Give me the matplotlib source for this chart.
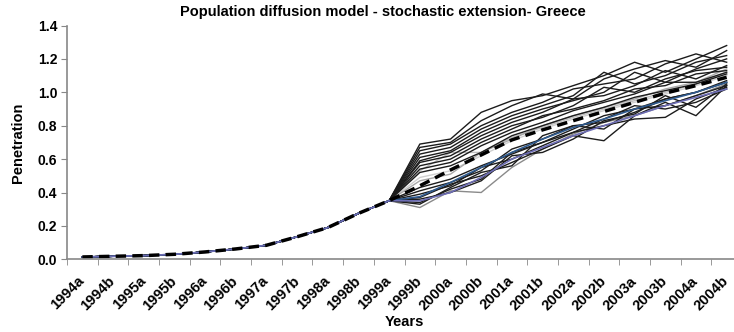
import matplotlib.pyplot as plt
from matplotlib.ticker import FixedLocator, MultipleLocator
from matplotlib.transforms import ScaledTranslation

periods = ['1994a', '1994b', '1995a', '1995b', '1996a', '1996b', '1997a', '1997b',
           '1998a', '1998b', '1999a', '1999b', '2000a', '2000b', '2001a', '2001b',
           '2002a', '2002b', '2003a', '2003b', '2004a', '2004b']

# observed penetration up to 1999a (all runs share it)
history = [0.014, 0.018, 0.022, 0.030, 0.044, 0.062, 0.084, 0.135, 0.19, 0.275, 0.351]

# mean of the stochastic runs, 1999b..2004b
mean_run = [0.44, 0.535, 0.625, 0.715, 0.775, 0.83, 0.885, 0.94, 0.995, 1.04, 1.09]

# individual simulated runs, 1999b..2004b
black_runs = [
    [0.69, 0.72, 0.88, 0.95, 0.98, 1.04, 1.10, 1.18, 1.12, 1.20, 1.28],
    [0.67, 0.70, 0.83, 0.92, 0.99, 0.96, 1.08, 1.14, 1.19, 1.15, 1.25],
    [0.65, 0.69, 0.80, 0.88, 0.94, 1.02, 1.05, 1.08, 1.17, 1.23, 1.18],
    [0.63, 0.67, 0.78, 0.86, 0.92, 0.98, 1.12, 1.05, 1.10, 1.18, 1.22],
    [0.61, 0.65, 0.76, 0.84, 0.90, 0.95, 1.00, 1.12, 1.06, 1.14, 1.20],
    [0.59, 0.64, 0.74, 0.82, 0.88, 0.96, 0.98, 1.04, 1.13, 1.08, 1.16],
    [0.58, 0.62, 0.72, 0.80, 0.85, 0.92, 1.03, 1.00, 1.08, 1.13, 1.15],
    [0.56, 0.60, 0.70, 0.78, 0.86, 0.90, 0.95, 1.02, 1.04, 1.11, 1.13],
    [0.54, 0.58, 0.68, 0.76, 0.82, 0.89, 0.94, 0.99, 1.06, 1.06, 1.12],
    [0.52, 0.56, 0.64, 0.74, 0.80, 0.86, 0.91, 0.97, 1.01, 1.05, 1.11],
    [0.43, 0.48, 0.56, 0.63, 0.70, 0.78, 0.86, 0.90, 0.92, 0.98, 1.04],
    [0.41, 0.46, 0.53, 0.66, 0.72, 0.80, 0.82, 0.88, 0.96, 1.00, 1.06],
    [0.39, 0.44, 0.55, 0.60, 0.68, 0.76, 0.84, 0.92, 0.90, 0.94, 1.02],
    [0.37, 0.45, 0.50, 0.58, 0.66, 0.74, 0.71, 0.86, 0.94, 0.86, 1.04],
    [0.34, 0.42, 0.48, 0.64, 0.70, 0.76, 0.80, 0.84, 0.85, 0.96, 1.03],
    [0.33, 0.43, 0.52, 0.56, 0.74, 0.80, 0.78, 0.90, 0.96, 1.00, 1.07],
    [0.36, 0.40, 0.47, 0.62, 0.64, 0.72, 0.83, 0.87, 0.98, 0.91, 1.05],
]
gray_runs = [
    [0.53, 0.64, 0.64, 0.73, 0.79, 0.85, 0.90, 0.95, 1.00, 1.05, 1.12],
    [0.49, 0.53, 0.62, 0.71, 0.78, 0.84, 0.89, 0.94, 0.99, 1.04, 1.10],
    [0.47, 0.51, 0.64, 0.72, 0.80, 0.86, 0.91, 0.96, 1.02, 1.06, 1.14],
    [0.31, 0.41, 0.40, 0.55, 0.66, 0.75, 0.82, 0.86, 0.92, 0.98, 1.05],
]
blue_runs = [
    [0.375, 0.46, 0.55, 0.64, 0.72, 0.79, 0.84, 0.90, 0.95, 1.00, 1.06],
    [0.35, 0.40, 0.49, 0.60, 0.67, 0.74, 0.80, 0.86, 0.92, 0.97, 1.02],
]
blue_colors = ['#2f5a8e', '#6d6db4']
gray_colors = ['#bdbdbd', '#cfcfcf', '#a8a8a8', '#8a8a8a']

x = list(range(len(periods)))

fig = plt.figure(figsize=(7.34, 3.32), dpi=100)
ax = fig.add_axes([67 / 734, 72.7 / 332, 675 / 734, 233.8 / 332])

for run, c in zip(gray_runs, gray_colors):
    ax.plot(x, history + run, color=c, lw=1.0)
for run in black_runs:
    ax.plot(x, history + run, color='#1c1c1c', lw=1.0)
for run, c in zip(blue_runs, blue_colors):
    ax.plot(x, history + run, color=c, lw=1.2)
ax.plot(x, history + mean_run, color='black', lw=2.5, dashes=(3, 1.8))

ax.set_xlim(-0.5, len(periods) - 0.5)
ax.set_ylim(0, 1.4)
ax.yaxis.set_major_locator(MultipleLocator(0.2))
ax.yaxis.set_major_formatter(plt.FuncFormatter(lambda v, p: f'{v:.1f}'))

ax.set_xticks(x)
ax.set_xticklabels(periods, rotation=45, ha='right', va='top', rotation_mode='anchor')
ax.xaxis.set_minor_locator(FixedLocator([i - 0.5 for i in range(len(periods) + 1)]))
ax.tick_params(axis='x', which='major', length=0, pad=10.5, labelsize=10.5)
ax.tick_params(axis='x', which='minor', length=4, color='#888888', direction='out')
ax.tick_params(axis='y', length=4, color='#888888', labelsize=10, pad=3)
shift = ScaledTranslation(-0.05, 0, fig.dpi_scale_trans)
for lab in ax.get_xticklabels():
    lab.set_transform(lab.get_transform() + shift)
for lab in ax.get_xticklabels() + ax.get_yticklabels():
    lab.set_fontweight('bold')
    lab.set_family('Liberation Sans')

for s in ['top', 'right']:
    ax.spines[s].set_visible(False)
for s in ['left', 'bottom']:
    ax.spines[s].set_color('#888888')
    ax.spines[s].set_linewidth(1.2)

ax.set_ylabel('Penetration', fontsize=10.5, fontweight='bold', family='Liberation Sans')
ax.yaxis.set_label_coords(-0.062, 0.5)
ax.set_xlabel('Years', fontsize=10.5, fontweight='bold', family='Liberation Sans')
ax.xaxis.set_label_coords(0.5, -0.24)

fig.text(383 / 734, 1 - 12 / 332, 'Population diffusion model - stochastic extension- Greece',
         ha='center', va='center', fontsize=10.5, fontweight='bold', family='Liberation Sans')

fig.savefig('out.png', dpi=100)
